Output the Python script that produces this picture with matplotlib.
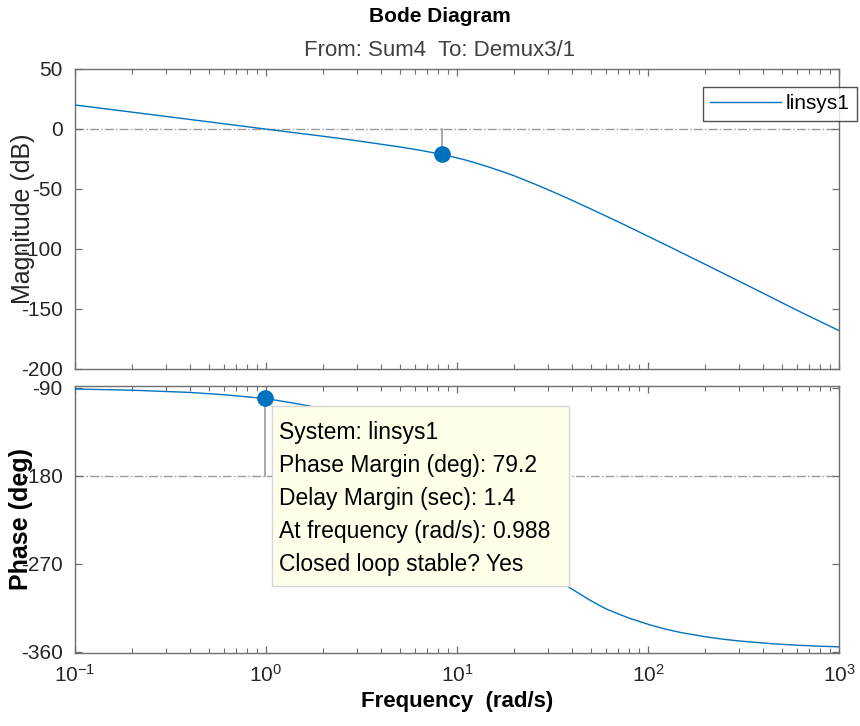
import matplotlib
matplotlib.use('Agg')
import matplotlib.pyplot as plt
from matplotlib.patches import Rectangle
from matplotlib.ticker import LogLocator, NullFormatter

plt.rcParams['font.family'] = ['Liberation Sans', 'DejaVu Sans']
plt.rcParams['mathtext.fontset'] = 'custom'
plt.rcParams['mathtext.rm'] = 'Liberation Sans'
plt.rcParams['axes.unicode_minus'] = False

# magnitude
w_mag = [0.1, 0.2, 0.5, 1, 2, 3, 5, 6.5, 8.34, 9.5, 11, 13.2, 15, 17, 20,
         24.1, 27, 30, 34, 39.1, 47, 55, 63.2, 75, 87, 100, 130, 160, 200,
         280, 400, 600, 1000]
mag_db = [20, 14, 6, -0.1, -6.1, -9.8, -14.9, -17.9, -21.2, -23.2, -25.7,
          -29.4, -32.2, -35.1, -39.1, -44.3, -47.5, -50.6, -54.4, -58.7,
          -64.5, -69.6, -74.1, -79.7, -84.7, -89.4, -98.2, -105.3, -112.9,
          -124.5, -136.8, -150.9, -168]

# phase (middle part sits behind the data tip)
w_ph = [0.1, 0.2, 0.4, 0.6, 0.988, 1.3, 1.7, 2.5, 3, 5, 8.34, 12, 16, 20,
        25, 30, 37.5, 45, 49.7, 55, 60.8, 70, 80, 102, 125, 150, 203, 250,
        300, 453, 600, 800, 1000]
phase_deg = [-91.1, -92.3, -94.6, -96.9, -100.8, -104.5, -108.6, -117,
             -122, -144, -178.5, -205, -228, -247, -264, -278, -292.6,
             -302.3, -307.4, -312.2, -316.6, -321.5, -325.9, -332.6, -337.3,
             -340.7, -345.1, -347.5, -349.2, -352.1, -353.5, -354.6, -355.2]

# margins
gm_freq = 8.34
gm_mag = -21.2
pm_freq = 0.988
pm_phase = -100.8

tooltip_lines = [
    'System: linsys1',
    'Phase Margin (deg): 79.2',
    'Delay Margin (sec): 1.4',
    'At frequency (rad/s): 0.988',
    'Closed loop stable? Yes',
]

W, H = 860, 726
line_c = '#0072BD'
axis_c = '#6e6e6e'
ref_c = '#9a9a9a'
text_c = '#262626'

fig = plt.figure(figsize=(W / 100, H / 100), dpi=100)


def px(x0, y0, x1, y1):
    return [x0 / W, 1 - y1 / H, (x1 - x0) / W, (y1 - y0) / H]


ax1 = fig.add_axes(px(75, 69, 839, 369))
ax2 = fig.add_axes(px(75, 386, 839, 652.5))

for ax in (ax1, ax2):
    ax.set_xscale('log')
    ax.set_xlim(0.1, 1000)
    ax.xaxis.set_major_locator(LogLocator(base=10, numticks=10))
    ax.xaxis.set_minor_locator(LogLocator(base=10, subs=range(2, 10), numticks=20))
    ax.xaxis.set_minor_formatter(NullFormatter())
    for s in ax.spines.values():
        s.set_color(axis_c)
        s.set_linewidth(1.0)
    ax.tick_params(which='both', direction='in', top=True, right=True,
                   color=axis_c, labelcolor=text_c, labelsize=15)
    ax.tick_params(which='major', length=5, width=0.9, pad=9)
    ax.tick_params(which='minor', length=3.3, width=0.8)

# magnitude
ax1.plot(w_mag, mag_db, color=line_c, lw=1.0, label='linsys1', zorder=3)
ax1.axhline(0, color=ref_c, lw=1.0, ls='-.', zorder=1)
ax1.plot([gm_freq, gm_freq], [0, gm_mag], color=ref_c, lw=1.2, zorder=2)
ax1.plot([gm_freq], [gm_mag], 'o', color=line_c, ms=11, zorder=4)
ax1.set_ylim(-200, 50)
ax1.set_yticks([50, 0, -50, -100, -150, -200])
ax1.tick_params(axis='x', labelbottom=False)
ax1.set_ylabel('Magnitude (dB)', fontsize=18, color=text_c)
ax1.yaxis.set_label_coords(-0.052, 0.5)

leg = ax1.legend(loc='upper right', bbox_to_anchor=(857 / W, 1 - 87 / H),
                 bbox_transform=fig.transFigure, fontsize=15, frameon=True,
                 fancybox=False, borderaxespad=0, borderpad=0.35,
                 handlelength=3.4, handletextpad=0.25)
leg.get_frame().set_edgecolor('#262626')
leg.get_frame().set_linewidth(1.0)

# phase
ax2.plot(w_ph, phase_deg, color=line_c, lw=1.0, zorder=3)
ax2.axhline(-180, color=ref_c, lw=1.0, ls='-.', zorder=1)
ax2.plot([pm_freq, pm_freq], [pm_phase, -180], color=ref_c, lw=1.2, zorder=2)
ax2.plot([pm_freq], [pm_phase], 'o', color=line_c, ms=11, zorder=4)
ax2.set_ylim(-361, -88)
ax2.set_yticks([-90, -180, -270, -360])
ax2.set_ylabel('Phase (deg)', fontsize=18, color='black', fontweight='bold')
ax2.yaxis.set_label_coords(-0.055, 0.5)
ax2.set_xlabel('Frequency  (rad/s)', fontsize=16, fontweight='bold',
               color='black', labelpad=4)
ax2.tick_params(axis='x', pad=8)

# data tip box
box = Rectangle((272 / W, 1 - 586 / H), (569 - 272) / W, (586 - 406) / H,
                transform=fig.transFigure, facecolor='#ffffea',
                edgecolor='#d6d6d6', lw=1.0, zorder=10)
fig.add_artist(box)
for i, s in enumerate(tooltip_lines):
    fig.text(279 / W, 1 - (439 + 33.1 * i) / H, s, fontsize=16.5,
             color='black', va='baseline', ha='left', zorder=11)

fig.text(440 / W, 1 - 16 / H, 'Bode Diagram', fontsize=15, fontweight='bold',
         color='black', ha='center', va='center')
fig.text(440 / W, 1 - 50 / H, 'From: Sum4  To: Demux3/1', fontsize=16,
         color='#404040', ha='center', va='center')

fig.savefig('out.png', dpi=100)
